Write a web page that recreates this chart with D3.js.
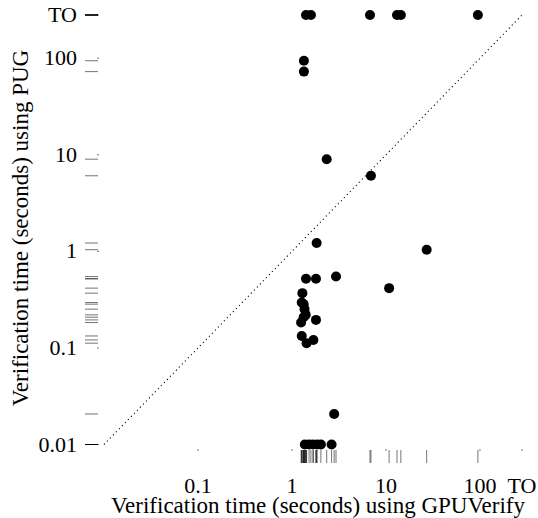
<!DOCTYPE html>
<html>
<head>
<meta charset="utf-8">
<script src="https://cdn.jsdelivr.net/npm/d3@7"></script>
<style>
body { margin: 0; background: #fff; }
text { font-family: "Liberation Serif", "Times New Roman", serif; fill: #000; }
</style>
</head>
<body>
<div id="plot"></div>
<script>
// timeout value, drawn as "TO" on both axes
var TO = 280

// verification time in seconds, one entry per kernel
var gpuverify = [1.41, 1.59, 6.76, 13.1, 14.4, 95,
	1.34, 1.34, 2.34, 6.92, 1.83, 27.1,
	1.41, 1.80, 2.94, 10.8,
	1.29, 1.27, 1.33, 1.36, 1.40, 1.33, 1.80, 1.25, 1.27, 1.69, 1.43,
	2.81,
	1.37, 1.52, 1.67, 1.85, 2.03, 2.64]
var pug = [TO, TO, TO, TO, TO, TO,
	94, 72.6, 9.0, 6.06, 1.22, 1.04,
	0.52, 0.52, 0.548, 0.416,
	0.369, 0.295, 0.284, 0.252, 0.22, 0.208, 0.195, 0.183, 0.133, 0.121, 0.112,
	0.0207,
	0.01, 0.01, 0.01, 0.01, 0.01, 0.01]

var xticks = [0.1, 1, 10, 100, TO]
var yticks = [0.01, 0.1, 1, 10, 100, TO]
var ticklabel = function(v){ return v == TO ? "TO" : v.toString() }

var width = 538, height = 518

var svg = d3.select("#plot")
	.append("svg")
		.attr("width", width)
		.attr("height", height)

var x = d3.scaleLog()
	.domain([0.01, TO])
	.range([104, 522])

var y = d3.scaleLog()
	.domain([0.01, TO])
	.range([444.5, 15])

var dat = gpuverify.map(function(d, i){ return {x: d, y: pug[i]} })

// diagonal y = x
svg.append("line")
	.attr("x1", x(0.01))
	.attr("y1", y(0.01))
	.attr("x2", x(TO))
	.attr("y2", y(TO))
	.attr("stroke", "#000")
	.attr("stroke-width", 1.1)
	.attr("stroke-dasharray", "1.1,3.2")

// tiny ticks at the plot edge
svg.append("g")
	.selectAll("line")
	.data(xticks)
	.enter()
	.append("line")
		.attr("x1", function(d){ return x(d) })
		.attr("x2", function(d){ return x(d) })
		.attr("y1", 449)
		.attr("y2", 451)
		.attr("stroke", "#777")

svg.append("g")
	.selectAll("line")
	.data(yticks)
	.enter()
	.append("line")
		.attr("y1", function(d){ return y(d) })
		.attr("y2", function(d){ return y(d) })
		.attr("x1", 97)
		.attr("x2", 99)
		.attr("stroke", "#777")

// rugs
svg.append("g")
	.selectAll("line")
	.data(dat)
	.enter()
	.append("line")
		.attr("x1", function(d){ return x(d.x) })
		.attr("x2", function(d){ return x(d.x) })
		.attr("y1", 450)
		.attr("y2", 463)
		.attr("stroke", "#000")
		.attr("stroke-opacity", 0.55)

svg.append("g")
	.selectAll("line")
	.data(dat)
	.enter()
	.append("line")
		.attr("y1", function(d){ return y(d.y) })
		.attr("y2", function(d){ return y(d.y) })
		.attr("x1", 85)
		.attr("x2", 98)
		.attr("stroke", "#000")
		.attr("stroke-opacity", 0.55)

// points
svg.append("g")
	.selectAll("circle")
	.data(dat)
	.enter()
	.append("circle")
		.attr("cx", function(d){ return x(d.x) })
		.attr("cy", function(d){ return y(d.y) })
		.attr("r", 5)
		.attr("fill", "#000")

// tick labels
svg.append("g")
	.selectAll("text")
	.data(xticks)
	.enter()
	.append("text")
		.attr("x", function(d){ return x(d) })
		.attr("y", 493)
		.attr("text-anchor", "middle")
		.style("font-size", "22px")
		.text(ticklabel)

svg.append("g")
	.selectAll("text")
	.data(yticks)
	.enter()
	.append("text")
		.attr("x", 77)
		.attr("y", function(d){ return y(d) + 7 })
		.attr("text-anchor", "end")
		.style("font-size", "22px")
		.text(ticklabel)

// axis titles
svg.append("text")
	.attr("x", 318)
	.attr("y", 513)
	.attr("text-anchor", "middle")
	.style("font-size", "23px")
	.text("Verification time (seconds) using GPUVerify")

svg.append("text")
	.attr("transform", "translate(28,228) rotate(-90)")
	.attr("text-anchor", "middle")
	.style("font-size", "23px")
	.text("Verification time (seconds) using PUG")
</script>
</body>
</html>
